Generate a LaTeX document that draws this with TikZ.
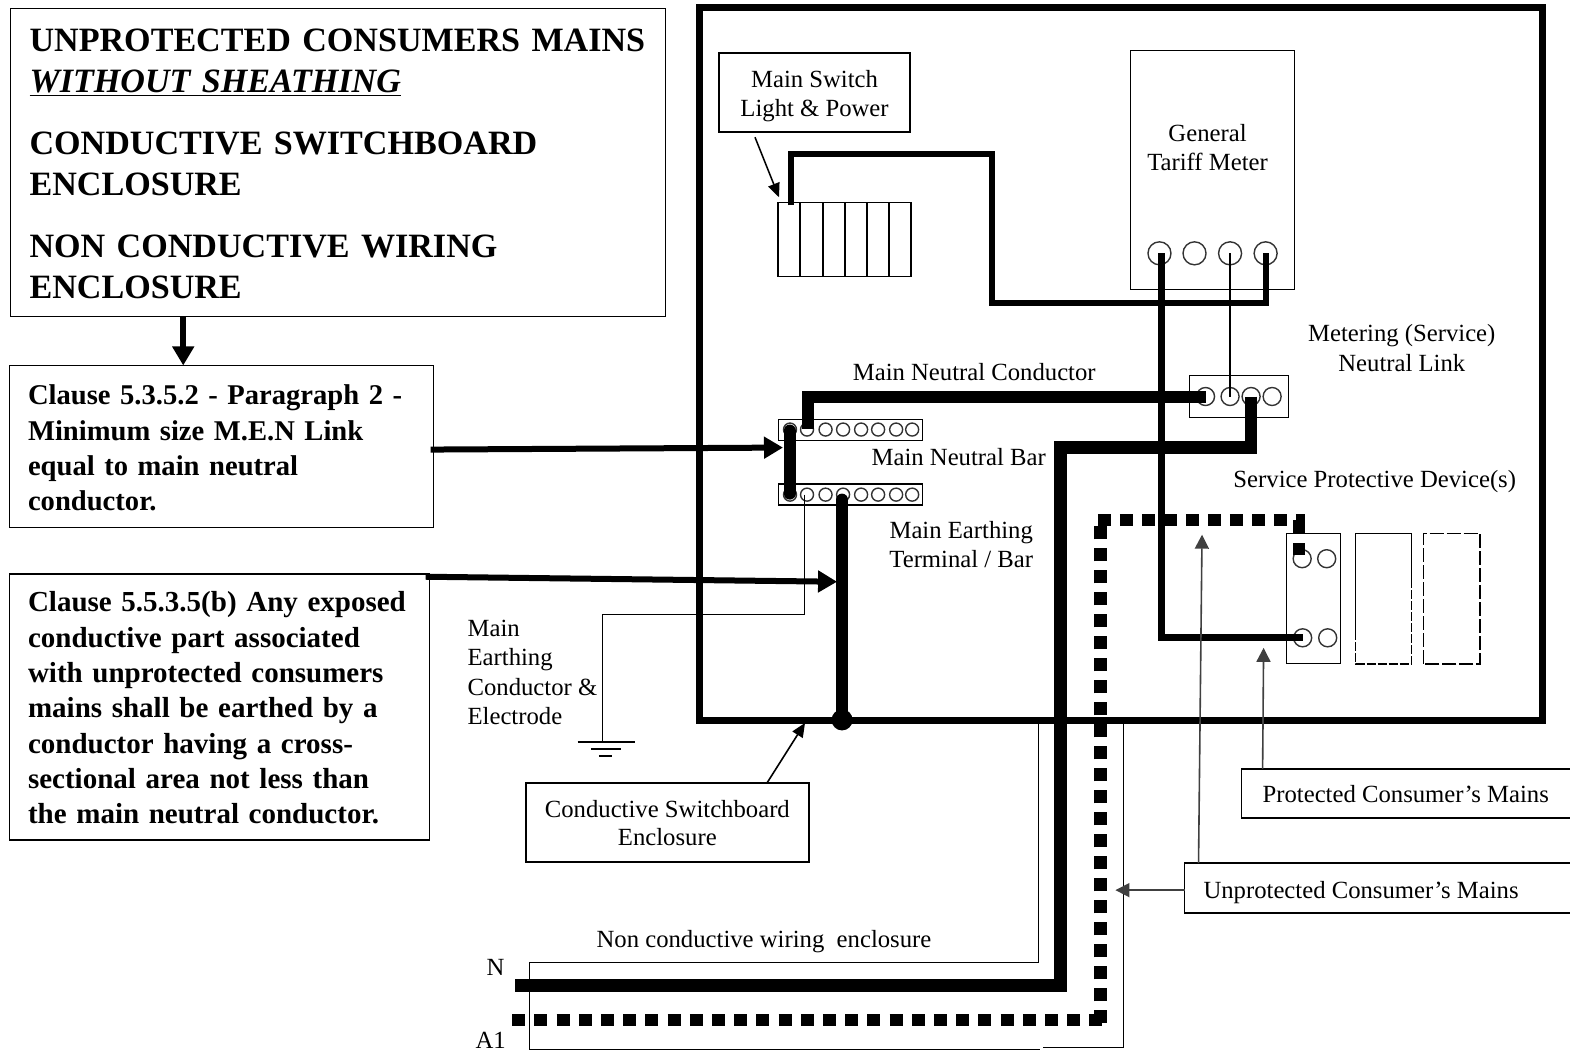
\documentclass[tikz,border=0pt]{standalone}
\usepackage{fontspec}
\setmainfont{Liberation Serif}
\usetikzlibrary{arrows.meta}
\tikzset{
  box/.style={draw=black,line width=1.3pt,inner sep=0pt,outer sep=0pt,align=center,font=\fontsize{24.7}{29}\selectfont},
  clause/.style={box,align=left,font=\bfseries\fontsize{28.6}{35.3}\selectfont},
  label/.style={inner sep=0pt,outer sep=0pt,align=center,font=\fontsize{24.7}{28.5}\selectfont},
  term/.style={draw=black!80,line width=1.4pt,circle,inner sep=0pt,outer sep=0pt},
  mterm/.style={term,minimum size=23pt},
  lterm/.style={term,minimum size=18pt},
  bterm/.style={term,minimum size=13pt},
  pterm/.style={term,minimum size=18pt},
  thinw/.style={draw=black,line width=1.3pt},
  bigarrow/.style={draw=black,line width=6pt,-{Triangle[length=19pt,width=21pt]}},
  smallarrow/.style={draw=black!75,line width=1.6pt,-{Triangle[length=14pt,width=14pt]}},
  wire/.style={draw=black,line width=6pt},
  heavy/.style={draw=black,line width=12pt},
  dots/.style={draw=black,line width=12.5pt,dash pattern=on 13pt off 9pt},
}
\begin{document}
\begin{tikzpicture}[x=1.0013pt,y=-1.0013pt]
\useasboundingbox (0,0) rectangle (1568,1051);
\fill[white] (0,0) rectangle (1568,1051);
% left boxes
\node[box,minimum width=655pt,minimum height=308pt] (title) at (337.5,162) {};
\node[inner sep=0pt,outer sep=0pt,align=left,anchor=west,text width=625pt,font=\bfseries\fontsize{34.1}{41}\selectfont] (titlet) at (29.5,164) {UNPROTECTED CONSUMERS MAINS\\\underline{\textit{WITHOUT SHEATHING}}\\[21pt]CONDUCTIVE SWITCHBOARD\\ENCLOSURE\\[21pt]NON CONDUCTIVE WIRING\\ENCLOSURE};
\node[box,minimum width=424pt,minimum height=162pt] (c1) at (221,446) {};
\node[clause,draw=none,anchor=west,text width=400pt] (c1t) at (28,447.5) {Clause 5.3.5.2 - Paragraph 2 -\\Minimum size M.E.N Link\\equal to main neutral\\conductor.};
\node[box,minimum width=420pt,minimum height=266pt] (c2) at (219,706) {};
\node[clause,draw=none,anchor=west,text width=398pt,font=\bfseries\fontsize{29}{35.3}\selectfont] (c2t) at (28,707) {Clause 5.5.3.5(b) Any exposed\\conductive part associated\\with unprotected consumers\\mains shall be earthed by a\\conductor having a cross-\\sectional area not less than\\the main neutral conductor.};
\coordinate (c1top) at (183,316);
\coordinate (c1in) at (183,365);
\draw[bigarrow] (c1top) -- (c1in);
% enclosure
\node[draw=black,line width=7pt,minimum width=843pt,minimum height=713pt,inner sep=0pt,outer sep=0pt] (encl) at (1120,363.5) {};
% switch
\node[box,minimum width=191pt,minimum height=79pt] (sw) at (813.5,92.5) {};
\node[label] (swt) at (813.5,96) {Main Switch\\Light \& Power};
\node[box,minimum width=133pt,minimum height=74pt] (brk) at (843.5,239) {};
\foreach \x/\n in {799/a,822/b,844/c,866/d,888/e}{\draw[thinw] (\x,202) -- (\x,276);}
\coordinate (swa) at (754,137);
\coordinate (swb) at (778,197);
\draw[draw=black,line width=1.5pt,-{Triangle[length=14pt,width=12pt]}] (swa) -- (swb);
% meter
\node[box,minimum width=164pt,minimum height=239pt] (meter) at (1211,169.5) {};
\node[label] (metert) at (1206,147.5) {General\\Tariff Meter};
\node[mterm] (m1) at (1158,253) {};
\node[mterm] (m2) at (1193,253) {};
\node[mterm] (m3) at (1228.5,253) {};
\node[mterm] (m4) at (1264,253) {};
% neutral link
\node[box,minimum width=99pt,minimum height=42pt] (link) at (1237.5,396) {};
\node[lterm] (l1) at (1204,396) {};
\node[lterm] (l2) at (1228.5,396) {};
\node[lterm] (l3) at (1249.5,396) {};
\node[lterm] (l4) at (1270.5,396) {};
\draw[thinw] (m3.center) -- (l2.center);
% bars
\node[box,minimum width=144pt,minimum height=21pt] (nbar) at (849.5,429.5) {};
\node[box,minimum width=144pt,minimum height=21pt] (ebar) at (849.5,494) {};
\foreach \x/\n in {789/1,806/2,824.5/3,842/4,860/5,877/6,895/7,911/8}{
  \node[bterm] (n\n) at (\x,429) {};
  \node[bterm] (e\n) at (\x,494) {};
}
% protective devices
\node[box,minimum width=54pt,minimum height=130pt] (pd1) at (1311.5,598) {};
\node[pterm] (p1) at (1300.5,558) {};
\node[pterm] (p2) at (1325,558) {};
\node[pterm] (p3) at (1301,637) {};
\node[pterm] (p4) at (1326,637) {};
\draw[thinw] (1354,630) -- (1354,533) -- (1410,533) -- (1410,585);
\draw[thinw,dash pattern=on 9pt off 2pt] (1354,630) -- (1354,663) -- (1410,663) -- (1410,585);
\draw[thinw,dash pattern=on 14pt off 3pt] (1422,663) -- (1422,533) -- (1478,533) -- (1478,663) -- cycle;
% wires
\draw[draw=black,line width=6pt] (790,205) -- (790,154) -- (991,154) -- (991,303) -- (1264,303) -- (m4.center);
\draw[draw=black,line width=7pt] (1160,253) -- (1160,637) -- (p3.center);
\draw[heavy] (807,428) -- (807,396) -- (l1.center);
\coordinate (linkA) at (788.5,430);
\coordinate (linkB) at (788.5,493);
\draw[heavy,line cap=round] (linkA) -- (linkB);
\draw[draw=black,line width=12.5pt] (l3.center) -- (1249.5,447) -- (1059,447) -- (1059,984) -- (514,984);
\coordinate (eth1) at (803.5,494);
\draw[thinw] (eth1) -- (803.5,614) -- (601.5,614) -- (601.5,741);
\coordinate (gnd1a) at (577,741); \coordinate (gnd1b) at (634,741);
\coordinate (gnd2a) at (590,748); \coordinate (gnd2b) at (620,748);
\coordinate (gnd3a) at (598,755); \coordinate (gnd3b) at (611,755);
\draw[thinw] (gnd1a) -- (gnd1b);
\draw[thinw] (gnd2a) -- (gnd2b);
\draw[thinw] (gnd3a) -- (gnd3b);
\node[fill=black,circle,minimum size=21pt,inner sep=0pt,outer sep=0pt] (dot) at (841,719) {};
\coordinate (eTop) at (841,499);
\draw[heavy,line cap=round] (eTop) -- (dot.center);
% left arrows
\coordinate (a1s) at (430,449);
\coordinate (a1e) at (782,447);
\coordinate (a2s) at (425,576);
\coordinate (a2e) at (836,581);
\draw[bigarrow] (a1s) -- (a1e);
\draw[bigarrow] (a2s) -- (a2e);
% unprotected dotted
\coordinate (dA) at (511.5,1018.5);
\coordinate (dB) at (1106,1018.5);
\coordinate (dC) at (1099.3,1022);
\coordinate (dD) at (1099.3,525);
\coordinate (dE) at (1096.5,519.5);
\coordinate (dF) at (1303.5,519.5);
\coordinate (dG) at (1297.5,519.5);
\coordinate (dH) at (1297.5,554);
\draw[dots,dash pattern=on 13pt off 9.2pt] (dA) -- (dB);
\draw[dots] (dC) -- (dD);
\draw[dots] (dE) -- (dF);
\draw[draw=black,line width=12pt,dash pattern=on 13pt off 10pt on 12pt off 10pt] (dG) -- (dH);
% enclosure conduit
\draw[thinw] (1037,722) -- (1037,961) -- (529,961) -- (529,1048) -- (1039,1048);
\draw[thinw] (1042,1046) -- (1122,1046) -- (1122,722);
% lower right boxes
\node[box,minimum width=330pt,minimum height=49pt] (prot) at (1405,792.5) {};
\node[label,anchor=west] (prott) at (1261,793.5) {Protected Consumer's Mains};
\node[box,minimum width=387pt,minimum height=50pt] (unprot) at (1376.5,887) {};
\node[label,anchor=west] (unprott) at (1202,891) {Unprotected Consumer's Mains};
\node[box,minimum width=283pt,minimum height=79pt] (csw) at (666.5,821.5) {};
\node[label] (cswt) at (666.5,822) {Conductive Switchboard\\Enclosure};
\coordinate (ap1) at (1197,862); \coordinate (ap2) at (1200.5,534);
\coordinate (ap3) at (1261,768); \coordinate (ap4) at (1262,647);
\coordinate (ap5) at (1183,889); \coordinate (ap6) at (1114,889);
\coordinate (ap7) at (766,782); \coordinate (ap8) at (804,722);
\draw[smallarrow] (ap1) -- (ap2);
\draw[smallarrow] (ap3) -- (ap4);
\draw[smallarrow] (ap5) -- (ap6);
\draw[draw=black,line width=1.6pt,-{Triangle[length=14pt,width=12pt]}] (ap7) -- (ap8);
% labels
\node[label] (lmnc) at (973,372) {Main Neutral Conductor};
\node[label] (lmnb) at (957.5,456) {Main Neutral Bar};
\node[label,font=\fontsize{24.7}{29.5}\selectfont] (lmet) at (960,544) {Main Earthing\\Terminal / Bar};
\node[label,font=\fontsize{24.7}{29.5}\selectfont] (lmsn) at (1400,347.5) {Metering (Service)\\Neutral Link};
\node[label] (lspd) at (1373,481) {Service Protective Device(s)};
\node[label,align=left,anchor=north west,font=\fontsize{24.7}{29.6}\selectfont] (lmec) at (467,619) {Main\\Earthing\\Conductor \&\\Electrode};
\node[label] (lnce) at (763,940) {Non conductive wiring\ \ enclosure};
\node[label] (lN) at (495,966) {N};
\node[label] (lA) at (490,1039.5) {A1};
\end{tikzpicture}
\end{document}
